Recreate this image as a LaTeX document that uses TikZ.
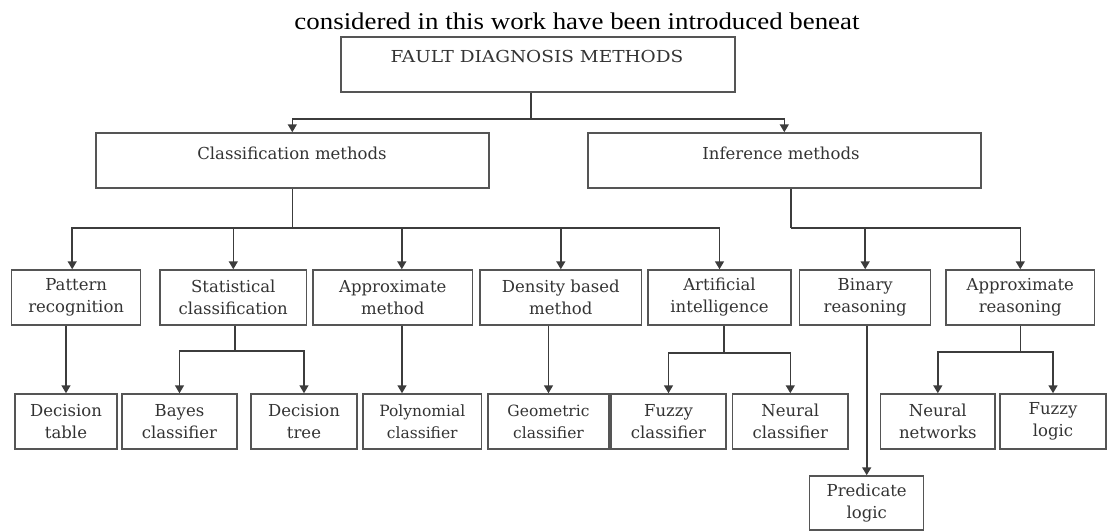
\documentclass[tikz,border=0pt]{standalone}
\usepackage{graphicx}
\usepackage{fontspec}
\setmainfont{DejaVu Serif}
\newfontfamily\capfont{Liberation Serif}
\usetikzlibrary{arrows.meta}
\definecolor{boxline}{HTML}{555555}
\definecolor{connline}{HTML}{3C3C3C}
\definecolor{txt}{HTML}{333333}
\begin{document}
\begin{tikzpicture}[x=1pt,y=-1pt,
  box/.style={draw=boxline, line width=1.5pt, minimum height=55pt, inner sep=0pt,
    text=txt, font=\fontsize{16.5}{22}\selectfont, align=center},
  lbl/.style={text=txt, font=\fontsize{16.5}{22}\selectfont, inner sep=0pt},
  conn/.style={draw=connline, line width=1.6pt},
  arr/.style={conn, -{Triangle[width=9pt,length=8pt]}}]
\useasboundingbox (0,0) rectangle (1108,531);

% caption
\node[font=\capfont\fontsize{24}{28}\selectfont, anchor=base, inner sep=0pt] (cap) at (577,29)
  {\scalebox{1.12}[1]{considered in this work have been introduced beneat}};

% top level
\node[box, minimum width=394pt] (fault) at (538,64.5) {};
\node[lbl] (fault-t) at (537,56) {\scalebox{1.12}[1]{FAULT DIAGNOSIS METHODS}};

\node[box, minimum width=393pt] (class) at (292.3,160.5) {};
\node[lbl] (class-t) at (292,153) {Classification methods};
\node[box, minimum width=393pt] (infer) at (784.3,160.5) {};
\node[lbl] (infer-t) at (781,153) {Inference methods};

% level 2
\node[box, minimum width=129pt]   (pat)  at (76.2,297.5)  {Pattern\\recognition};
\node[box, minimum width=146.7pt] (stat) at (233.3,297.5) {Statistical\\classification};
\node[box, minimum width=159.7pt] (appm) at (392.8,297.5) {Approximate\\method};
\node[box, minimum width=161.7pt] (dens) at (560.8,297.5) {Density based\\method};
\node[box, minimum width=143pt]   (ai)   at (719.5,297.5) {Artificial\\intelligence};
\node[box, minimum width=131pt]   (bin)  at (865.2,297.5) {Binary\\reasoning};
\node[box, minimum width=148.7pt] (appr) at (1020.3,297.5) {Approximate\\reasoning};

% level 3
\node[box, minimum width=102pt]   (dt)   at (66,421.5)    {Decision\\table};
\node[box, minimum width=115pt]   (bay)  at (179.5,421.5) {Bayes\\classifier};
\node[box, minimum width=106pt]   (dtr)  at (304,421.5)   {Decision\\tree};
\node[box, minimum width=118.7pt, font=\fontsize{15.5}{22}\selectfont] (poly) at (422.3,421.5) {Polynomial\\classifier};
\node[box, minimum width=121pt, font=\fontsize{15.5}{22}\selectfont]   (geo)  at (548.5,421.5) {Geometric\\classifier};
\node[box, minimum width=115pt]   (fuz)  at (668.5,421.5) {Fuzzy\\classifier};
\node[box, minimum width=115.3pt] (neu)  at (790.3,421.5) {Neural\\classifier};
\node[box, minimum width=114.3pt] (nn)   at (937.8,421.5) {Neural\\networks};
\node[box, minimum width=106pt]   (fl)   at (1053,421.5)  {Fuzzy\\logic};
\node[box, minimum width=114pt, minimum height=54pt] (pred) at (866.7,503) {Predicate\\logic};

% connectors: top
\coordinate (j0) at (531,119);
\draw[conn] (fault.south -| j0) -- (j0);
\draw[arr] (j0) -| (class.north);
\draw[arr] (j0) -| (infer.north);

% classification branch
\coordinate (j1) at (292.3,228);
\draw[conn] (class.south) -- (j1);
\draw[arr] (j1) -| ([xshift=-4pt]pat.north);
\draw[arr] (j1) -| (stat.north);
\draw[arr] (j1) -| ([xshift=9pt]appm.north);
\draw[arr] (j1) -| (dens.north);
\draw[arr] (j1) -| (ai.north);

% inference branch
\coordinate (j2) at (791,228);
\draw[conn] (infer.south -| j2) -- (j2);
\draw[arr] (j2) -| (bin.north);
\draw[arr] (j2) -| (appr.north);

% level 2 -> 3
\draw[arr] (pat.south -| dt.north) -- (dt.north);
\coordinate (j3) at (235,351);
\draw[conn] (stat.south -| j3) -- (j3);
\draw[arr] (j3) -| (bay.north);
\draw[arr] (j3) -| (dtr.north);
\coordinate (c4) at (402,360);
\draw[arr] (appm.south -| c4) -- (poly.north -| c4);
\draw[arr] (dens.south -| geo.north) -- (geo.north);
\coordinate (j5) at (724,352.7);
\draw[conn] (ai.south -| j5) -- (j5);
\draw[arr] (j5) -| (fuz.north);
\draw[arr] (j5) -| (neu.north);
\draw[arr] (bin.south -| pred.north) -- (pred.north);
\coordinate (j6) at (1020.3,351.7);
\draw[conn] (appr.south) -- (j6);
\draw[arr] (j6) -| (nn.north);
\draw[arr] (j6) -| (fl.north);
\end{tikzpicture}
\end{document}
